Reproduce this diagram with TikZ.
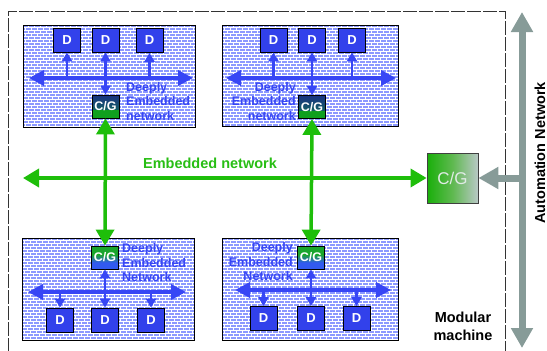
\documentclass[tikz,border=0pt]{standalone}
\usepackage{fontspec}
\setmainfont{Liberation Sans}
\usetikzlibrary{arrows.meta,calc}
\definecolor{dblue}{RGB}{55,70,245}
\definecolor{dboxc}{RGB}{50,65,235}
\definecolor{patc}{RGB}{140,153,255}
\definecolor{gline}{RGB}{30,190,10}
\definecolor{gtext}{RGB}{40,190,20}
\definecolor{grayn}{RGB}{135,155,152}
\definecolor{cgnavy}{RGB}{25,50,130}
\definecolor{cgteal}{RGB}{20,95,100}
\definecolor{cggreen}{RGB}{15,160,30}
\definecolor{cglgreen}{RGB}{25,165,45}
\definecolor{cgblue}{RGB}{50,90,240}
\newcommand{\cgTopNode}[3]{%
  \fill[top color=cgnavy,bottom color=cgteal] (#2-13.5,#3-11.5) rectangle (#2+13.5,#3+3.5);
  \fill[cggreen] (#2-13.5,#3+3.5) rectangle (#2+13.5,#3+11.5);
  \node[cgbox] (#1) at (#2,#3) {C/G};}
\newcommand{\cgBotNode}[3]{%
  \fill[cglgreen] (#2-13.5,#3-11.5) rectangle (#2+13.5,#3-3);
  \fill[top color=cglgreen,bottom color=cgblue] (#2-13.5,#3-3) rectangle (#2+13.5,#3+5);
  \fill[cgblue] (#2-13.5,#3+5) rectangle (#2+13.5,#3+11.5);
  \node[cgbox] (#1) at (#2,#3) {C/G};}
\begin{document}
\begin{tikzpicture}[x=1pt,y=-1pt,
  netbox/.style={draw=black,line width=0.8pt,fill=white,inner sep=0pt,
    path picture={
      \foreach \i [evaluate=\i as \ph using {mod(\i,2)*3}] in {0,...,35}{
        \draw[patc,line width=1.1pt,dash pattern=on 4.5pt off 1.5pt,dash phase=\ph pt]
          ([yshift=-\i*3pt-1pt]path picture bounding box.north west) --
          ([yshift=-\i*3pt-1pt]path picture bounding box.north east);
      }}},
  dev/.style={draw=black,line width=0.8pt,fill=dboxc,text=white,inner sep=0pt,
    minimum width=27pt,minimum height=24pt,font=\fontsize{13}{13}\selectfont\bfseries},
  cgbox/.style={draw=black,line width=0.8pt,inner sep=0pt,text=white,
    minimum width=27pt,minimum height=23pt,font=\fontsize{12.5}{12.5}\selectfont\bfseries},
  bus/.style={dblue,line width=3.5pt,{Triangle[length=15pt,width=15pt]}-{Triangle[length=15pt,width=15pt]}},
  sarr/.style={dblue,line width=2.5pt,-{Triangle[length=9pt,width=10pt]}},
  darr/.style={dblue,line width=2.5pt,{Triangle[length=9pt,width=10pt]}-{Triangle[length=9pt,width=10pt]}},
  garr/.style={gline,line width=3.5pt,{Triangle[length=16pt,width=18pt]}-{Triangle[length=16pt,width=18pt]}},
  lbl/.style={dblue,font=\fontsize{12.5}{14.5}\selectfont\bfseries,inner sep=0pt},
  frame/.style={black!80,line width=0.8pt,dash pattern=on 14pt off 2pt},
  autoarr/.style={grayn,line width=7pt},
]
\useasboundingbox (0,0) rectangle (547,351);

% outer dashed frame
\draw[frame] (8,352) -- (8,11) -- (505,11) -- (505,352);

% boxes
\node[netbox,minimum width=172pt,minimum height=102pt] (boxTL) at (109,76) {};
\node[netbox,minimum width=176pt,minimum height=101pt] (boxTR) at (310,75.5) {};
\node[netbox,minimum width=172pt,minimum height=102pt] (boxBL) at (108,289) {};
\node[netbox,minimum width=176pt,minimum height=102pt] (boxBR) at (310,289) {};

% ---- top-left
\node[dev] (tl1) at (67,40) {D};
\node[dev] (tl2) at (105.5,40) {D};
\node[dev] (tl3) at (149.5,40.5) {D};
\cgTopNode{tlcg}{105.5}{106.5}
\coordinate (tlbA) at (29,78);
\coordinate (tlbB) at (193,78);
\draw[bus] (tlbA) -- (tlbB);
\draw[sarr] (tl1.south |- tlbA) -- (tl1.south);
\draw[sarr] (tl3.south |- tlbA) -- (tl3.south);
\draw[darr] (tlcg.north) -- (tl2.south);
\node[lbl,anchor=west,align=left] at (126,101.5) {Deeply\\Embedded\\network};

% ---- top-right
\node[dev] (tr1) at (273.5,40) {D};
\node[dev] (tr2) at (312,40) {D};
\node[dev] (tr3) at (352,40) {D};
\cgTopNode{trcg}{312}{107}
\coordinate (trbA) at (226,78);
\coordinate (trbB) at (396,78);
\draw[bus] (trbA) -- (trbB);
\draw[sarr] (tr1.south |- trbA) -- (tr1.south);
\draw[sarr] (tr3.south |- trbA) -- (tr3.south);
\draw[darr] (trcg.north) -- (tr2.south);
\node[lbl,anchor=east,align=right] at (296,101.5) {Deeply\\Embedded\\network};

% ---- bottom-left
\node[dev] (bl1) at (60,320) {D};
\node[dev] (bl2) at (105,320) {D};
\node[dev] (bl3) at (151,320) {D};
\cgBotNode{blcg}{105}{257.5}
\coordinate (blbA) at (28,292);
\coordinate (blbB) at (186,292);
\draw[bus] (blbA) -- (blbB);
\draw[sarr] (bl1.north |- blbA) -- (bl1.north);
\draw[sarr] (bl3.north |- blbA) -- (bl3.north);
\draw[darr] (blcg.south) -- (bl2.north);
\node[lbl,anchor=west,align=left] at (122,263) {Deeply\\Embedded\\Network};

% ---- bottom-right
\node[dev] (br1) at (263.5,318.5) {D};
\node[dev] (br2) at (311,318.5) {D};
\node[dev] (br3) at (356.5,318.5) {D};
\cgBotNode{brcg}{311}{257.5}
\coordinate (brbA) at (235,290);
\coordinate (brbB) at (391,290);
\draw[bus] (brbA) -- (brbB);
\draw[sarr] (br1.north |- brbA) -- (br1.north);
\draw[sarr] (br3.north |- brbA) -- (br3.north);
\draw[darr] (brcg.south) -- (br2.north);
\node[lbl,anchor=east,align=right] at (293,262) {Deeply\\Embedded\\Network};

% ---- big C/G
\node[draw=black!75,line width=0.8pt,minimum width=51pt,minimum height=50pt,inner sep=0pt,
  left color={rgb,255:red,25;green,175;blue,10},right color={rgb,255:red,185;green,200;blue,198},
  middle color={rgb,255:red,95;green,185;blue,80},
  text={rgb,255:red,225;green,235;blue,230},font=\fontsize{17}{17}\selectfont] (bigcg) at (452.5,178) {C/G};

% ---- embedded network (green)
\coordinate (gL) at (23,178);
\draw[garr] (gL) -- (bigcg.west);
\draw[garr] (tlcg.south) -- (blcg.north);
\draw[garr] (trcg.south) -- (brcg.north);
\node[gtext,font=\fontsize{14.5}{14.5}\selectfont\bfseries] (enet) at (210,163) {Embedded network};

% ---- automation network (gray)
\coordinate (aT) at (522,12);
\coordinate (aB) at (522,348);
\coordinate (aM) at (522,178);
\draw[autoarr,{Triangle[length=20pt,width=21pt]}-{Triangle[length=20pt,width=21pt]}] (aT) -- (aB);
\draw[autoarr,-{Triangle[length=20pt,width=21pt]}] (aM) -- (bigcg.east);
\node[rotate=90,font=\fontsize{14.5}{14.5}\selectfont\bfseries] (anet) at (540,153) {Automation Network};

% ---- modular machine
\node[align=center,font=\fontsize{14.5}{18}\selectfont\bfseries] (mm) at (463,326) {Modular\\machine};
\end{tikzpicture}
\end{document}
